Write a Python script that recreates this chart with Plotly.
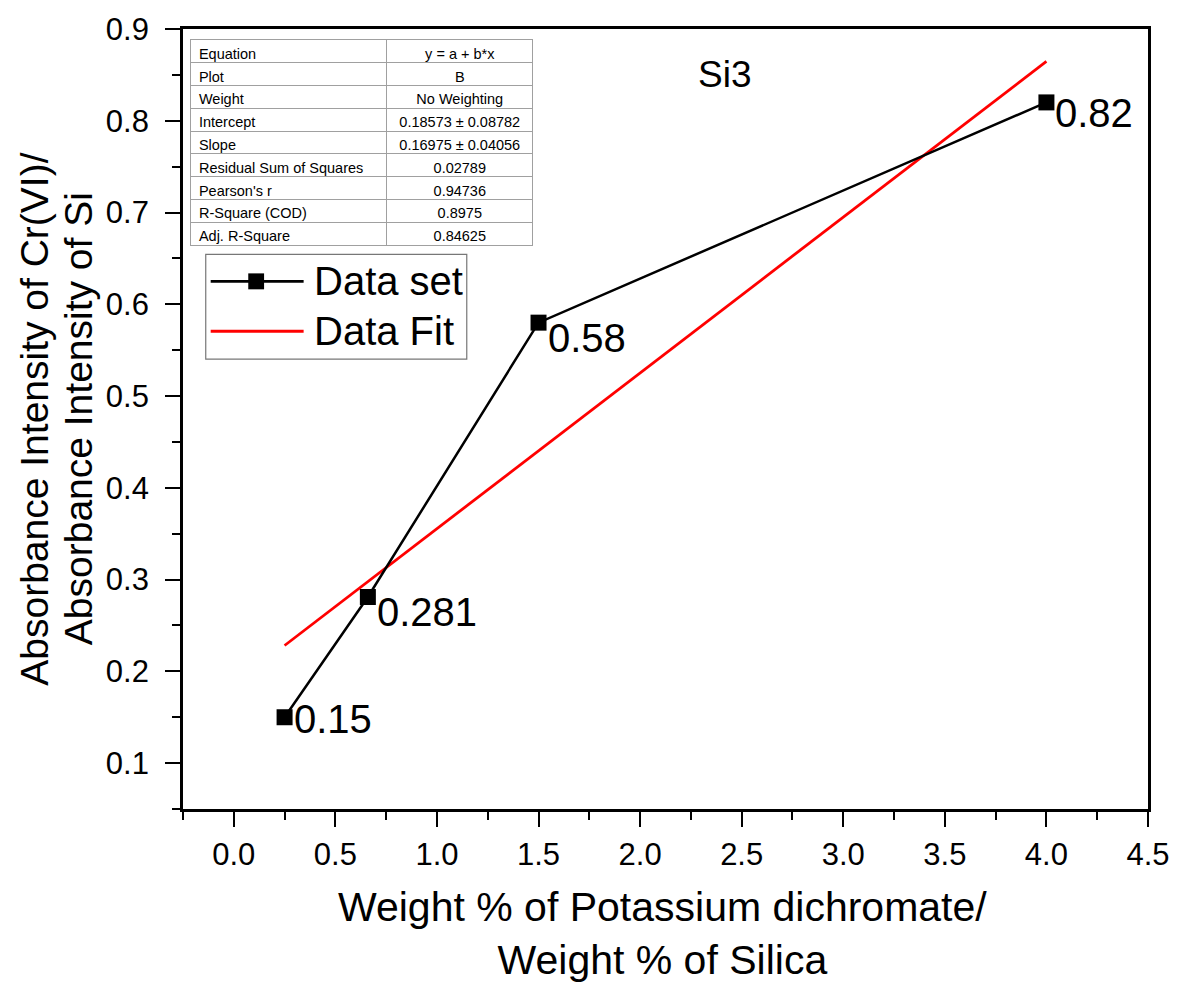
import plotly.graph_objects as go

# ---- data ----
x_data = [0.25, 0.66, 1.5, 4.0]
y_data = [0.15, 0.281, 0.58, 0.82]
point_labels = ["0.15", "0.281", "0.58", "0.82"]

fit_intercept = 0.18573
fit_slope = 0.16975
fit_x = [0.25, 4.0]
fit_y = [fit_intercept + fit_slope * v for v in fit_x]

series_names = ["Data set", "Data Fit"]
chart_label = "Si3"

table_keys = ["Equation", "Plot", "Weight", "Intercept", "Slope",
              "Residual Sum of Squares", "Pearson's r", "R-Square (COD)", "Adj. R-Square"]
table_vals = ["y = a + b*x", "B", "No Weighting", "0.18573 \u00b1 0.08782",
              "0.16975 \u00b1 0.04056", "0.02789", "0.94736", "0.8975", "0.84625"]

x_title = "Weight % of Potassium dichromate/<br>Weight % of Silica"
y_title_lines = ["Absorbance Intensity of Cr(VI)/", "Absorbance Intensity of Si"]

# ---- style ----
FONT = "Arial, Liberation Sans, sans-serif"
W, H = 1182, 992
ML, MR, MT, MB = 183, 23, 27, 183
PW, PH = W - ML - MR, H - MT - MB
label_yshift = [-2, -15, -15, -11]


def px(xp):
    return (xp - ML) / PW


def py(yp):
    return 1 - (yp - MT) / PH


def nb(s):
    return s.replace(" ", "\u00a0")


fig = go.Figure()

fig.add_trace(go.Scatter(x=fit_x, y=fit_y, mode="lines", name=series_names[1],
                         line=dict(color="#ff0000", width=2.8), showlegend=False))
fig.add_trace(go.Scatter(x=x_data, y=y_data, mode="lines+markers", name=series_names[0],
                         line=dict(color="black", width=2.5),
                         marker=dict(symbol="square", size=16, color="black"),
                         showlegend=False))

# point labels
for xv, yv, t, ys in zip(x_data, y_data, point_labels, label_yshift):
    fig.add_annotation(x=xv, y=yv, text=t, showarrow=False, xanchor="left", yanchor="middle",
                       xshift=7, yshift=ys, font=dict(family=FONT, size=40, color="black"))

# table
fig.add_trace(go.Table(
    domain=dict(x=[px(191), px(537)], y=[py(245), py(38)]),
    columnwidth=[198, 148],
    header=dict(values=[nb(table_keys[0]), nb(table_vals[0])], height=22.8,
                align=["left", "center"], fill_color="white",
                line=dict(color="#a0a0a0", width=1),
                font=dict(family=FONT, size=14.5, color="black")),
    cells=dict(values=[[nb(s) for s in table_keys[1:]], [nb(s) for s in table_vals[1:]]],
               height=22.8, align=["left", "center"], fill_color="white",
               line=dict(color="#a0a0a0", width=1),
               font=dict(family=FONT, size=14.5, color="black")),
))

# manual legend
shapes = []
shapes.append(dict(type="rect", xref="paper", yref="paper", x0=px(206), x1=px(470),
                   y0=py(358), y1=py(253), line=dict(color="#777777", width=1.2),
                   fillcolor="white", layer="above"))
shapes.append(dict(type="line", xref="paper", yref="paper", x0=px(211), x1=px(305),
                   y0=py(280), y1=py(280), line=dict(color="black", width=2.8), layer="above"))
shapes.append(dict(type="rect", xref="paper", yref="paper", x0=px(249), x1=px(265),
                   y0=py(288), y1=py(272), line=dict(color="black", width=0),
                   fillcolor="black", layer="above"))
shapes.append(dict(type="line", xref="paper", yref="paper", x0=px(211), x1=px(305),
                   y0=py(330), y1=py(330), line=dict(color="#ff0000", width=2.8), layer="above"))
for name, yp in zip(series_names, [280, 330]):
    fig.add_annotation(xref="paper", yref="paper", x=px(313), y=py(yp), text=name,
                       showarrow=False, xanchor="left", yanchor="middle",
                       font=dict(family=FONT, size=40, color="black"))

# chart label
fig.add_annotation(xref="paper", yref="paper", x=px(731), y=py(73), text=chart_label,
                   showarrow=False, xanchor="center", yanchor="middle",
                   font=dict(family=FONT, size=37, color="black"))

# axis titles
fig.add_annotation(xref="paper", yref="paper", x=px(668), y=py(934), text=x_title,
                   showarrow=False, xanchor="center", yanchor="middle",
                   font=dict(family=FONT, size=41, color="black"))
for line, xc in zip(y_title_lines, [32, 77]):
    fig.add_annotation(xref="paper", yref="paper", x=px(xc), y=0.5, text=line,
                       showarrow=False, xanchor="center", yanchor="middle", textangle=-90,
                       font=dict(family=FONT, size=39, color="black"))

axis_common = dict(showgrid=False, zeroline=False, showline=True, linecolor="black",
                   linewidth=2.8, mirror=True, ticks="outside", tickcolor="black",
                   tickwidth=2.2, ticklen=15)

fig.update_layout(
    width=W, height=H,
    margin=dict(l=ML, r=MR, t=MT, b=MB),
    paper_bgcolor="white", plot_bgcolor="white",
    shapes=shapes,
    xaxis=dict(range=[-0.25, 4.5], tick0=0, dtick=0.5, tickformat=".1f",
               minor=dict(ticks="outside", dtick=0.25, ticklen=8, tickwidth=2, tickcolor="black"),
               ticklabelstandoff=1, tickfont=dict(family=FONT, size=31, color="black"),
               **axis_common),
    yaxis=dict(range=[0.05, 0.9], tick0=0, dtick=0.1, tickformat=".1f",
               minor=dict(ticks="outside", dtick=0.05, ticklen=8, tickwidth=2, tickcolor="black"),
               ticklabelstandoff=10, tickfont=dict(family=FONT, size=31, color="black"),
               **axis_common),
)

fig.write_html("out.html")
